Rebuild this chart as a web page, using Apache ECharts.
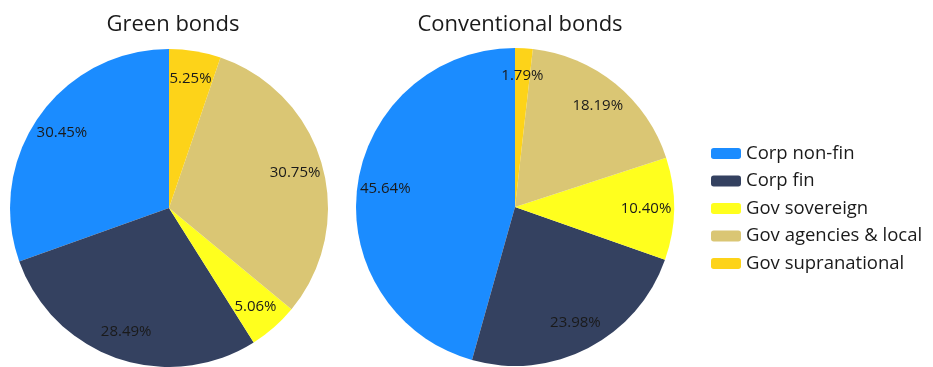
<!DOCTYPE html>
<html>
<head>
<meta charset="utf-8">
<script src="https://cdn.jsdelivr.net/npm/echarts@6/dist/echarts.min.js"></script>
<style>
  html, body { margin: 0; padding: 0; background: #fff; }
  #chart { width: 933px; height: 367px; }
</style>
</head>
<body>
<div id="chart"></div>
<script>
const categories = ['Corp non-fin', 'Corp fin', 'Gov sovereign', 'Gov agencies & local', 'Gov supranational']
const greenValues = [30.45, 28.49, 5.06, 30.75, 5.25]
const conventionalValues = [45.64, 23.98, 10.40, 18.19, 1.79]
const colors = ['#1b8cff', '#344160', '#ffff1e', '#dac674', '#fdd319']

const font = 'Open Sans'
const R = 159

function toData(values) {
  return categories.map((name, i) => ({ name, value: values[i] }))
}

function pieSeries(values, center) {
  return [
    {
      type: 'pie',
      center,
      radius: [0, R],
      startAngle: 90,
      clockwise: false,
      label: { show: false },
      labelLine: { show: false },
      emphasis: { disabled: true },
      data: toData(values),
    },
    {
      // transparent ring, only used to put the labels at ~0.8 of the radius
      type: 'pie',
      center,
      radius: [97, R],
      startAngle: 90,
      clockwise: false,
      silent: true,
      itemStyle: { color: 'transparent' },
      label: {
        show: true,
        position: 'inside',
        color: '#1a1a1a',
        fontFamily: font,
        fontSize: 15,
        formatter: (p) => p.value.toFixed(2) + '%',
      },
      labelLine: { show: false },
      emphasis: { disabled: true },
      data: toData(values),
    },
  ]
}

const chart = echarts.init(document.getElementById('chart'))
chart.setOption({
  animation: false,
  color: colors,
  title: [
    {
      text: 'Green bonds',
      left: 168,
      top: 9,
      textAlign: 'center',
      textStyle: { fontFamily: font, fontSize: 22, fontWeight: 'normal', color: '#1a1a1a' },
    },
    {
      text: 'Conventional bonds',
      left: 515,
      top: 9,
      textAlign: 'center',
      textStyle: { fontFamily: font, fontSize: 22, fontWeight: 'normal', color: '#1a1a1a' },
    },
  ],
  legend: {
    orient: 'vertical',
    left: 706,
    top: 139,
    itemWidth: 30,
    itemHeight: 11,
    itemGap: 8.5,
    selectedMode: false,
    data: categories.map((name, i) => ({ name, itemStyle: { color: colors[i] } })),
    textStyle: { fontFamily: font, fontSize: 18.5, lineHeight: 19, color: '#1a1a1a' },
  },
  series: [
    ...pieSeries(greenValues, [169, 208]),
    ...pieSeries(conventionalValues, [515, 207]),
  ],
})
</script>
</body>
</html>
